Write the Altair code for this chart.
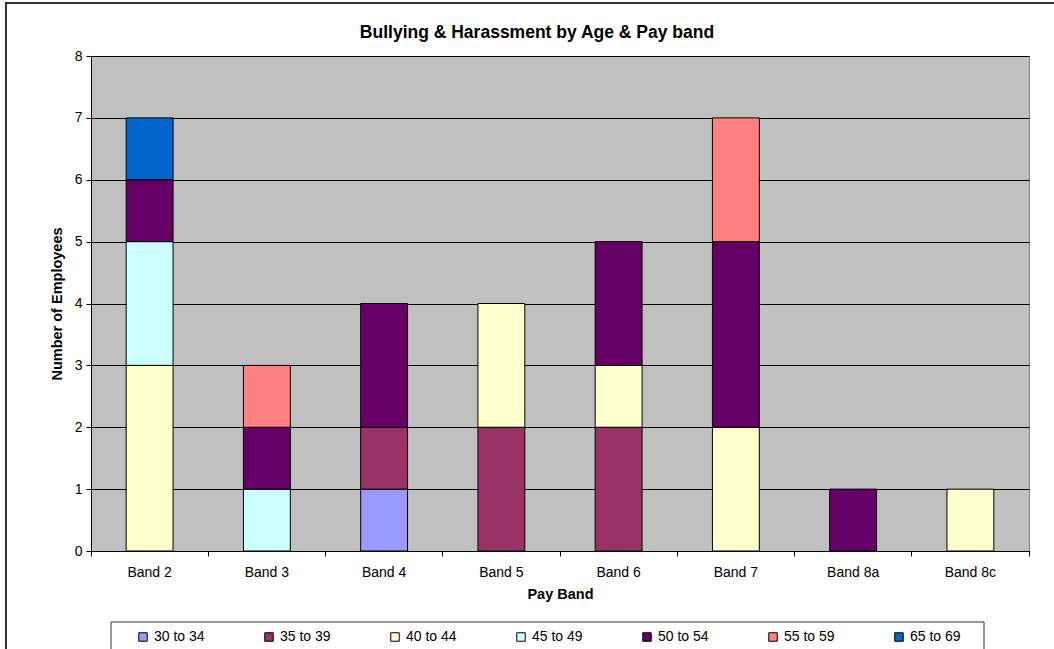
import altair as alt
import pandas as pd

# Pay bands along the x axis
bands = ["Band 2", "Band 3", "Band 4", "Band 5", "Band 6", "Band 7", "Band 8a", "Band 8c"]

# Age groups (stacked bottom to top) and their fill colours
ages = ["30 to 34", "35 to 39", "40 to 44", "45 to 49", "50 to 54", "55 to 59", "65 to 69"]
age_colors = ["#9999FF", "#993366", "#FFFFCC", "#CCFFFF", "#660066", "#FF8080", "#0066CC"]

# Employees per pay band, one list per age group
age_30_34 = [0, 0, 1, 0, 0, 0, 0, 0]
age_35_39 = [0, 0, 1, 2, 2, 0, 0, 0]
age_40_44 = [3, 0, 0, 2, 1, 2, 0, 1]
age_45_49 = [2, 1, 0, 0, 0, 0, 0, 0]
age_50_54 = [1, 1, 2, 0, 2, 3, 1, 0]
age_55_59 = [0, 1, 0, 0, 0, 2, 0, 0]
age_65_69 = [1, 0, 0, 0, 0, 0, 0, 0]

series = [age_30_34, age_35_39, age_40_44, age_45_49, age_50_54, age_55_59, age_65_69]

rows = []
for i, (age, values) in enumerate(zip(ages, series)):
    for band, v in zip(bands, values):
        if v > 0:
            rows.append({"band": band, "age": age, "count": v, "order": i})
df = pd.DataFrame(rows)

FONT = "Liberation Sans"

bars = alt.Chart(df).mark_bar(
    stroke="black", strokeWidth=1, width=alt.RelativeBandSize(0.4)
).encode(
    x=alt.X(
        "band:N",
        sort=bands,
        scale=alt.Scale(paddingInner=0, paddingOuter=0),
        axis=alt.Axis(
            title="Pay Band",
            labelAngle=0,
            bandPosition=1,
            tickExtra=True,
            tickSize=5,
            tickColor="black",
            domainColor="black",
            labelPadding=9,
            labelFontSize=14,
            labelColor="black",
            titleFontSize=14.5,
            titleFontWeight="bold",
            titleColor="black",
            titlePadding=8,
            grid=False,
        ),
    ),
    y=alt.Y(
        "count:Q",
        stack="zero",
        scale=alt.Scale(domain=[0, 8], nice=False),
        axis=alt.Axis(
            title="Number of Employees",
            values=list(range(9)),
            grid=True,
            gridColor="black",
            gridWidth=1,
            tickSize=5,
            tickColor="black",
            domainColor="black",
            labelPadding=4,
            labelFontSize=14,
            labelColor="black",
            titleFontSize=14.5,
            titleFontWeight="bold",
            titleColor="black",
            titlePadding=10,
        ),
    ),
    color=alt.Color(
        "age:N",
        scale=alt.Scale(domain=ages, range=age_colors),
        legend=alt.Legend(
            title=None,
            orient="none",
            legendX=45,
            legendY=574,
            direction="horizontal",
            columns=7,
            gridAlign="all",
            columnPadding=57,
            padding=0,
            symbolType="square",
            symbolSize=72,
            symbolStrokeColor="black",
            symbolStrokeWidth=1,
            symbolOpacity=1,
            labelFontSize=14,
            labelOffset=4,
            labelColor="black",
        ),
    ),
    order=alt.Order("order:Q", sort="ascending"),
)

one = pd.DataFrame({"k": [0]})

# Frame around the legend
legend_box = alt.Chart(one).mark_rect(
    fillOpacity=0, stroke="#333333", strokeWidth=1
).encode(
    x=alt.value(20), x2=alt.value(893), y=alt.value(566), y2=alt.value(700)
)

# Outer chart frame
outer_box = alt.Chart(one).mark_rect(
    fillOpacity=0, stroke="#333333", strokeWidth=2
).encode(
    x=alt.value(-85), x2=alt.value(1100), y=alt.value(-53), y2=alt.value(700)
)

chart = alt.layer(outer_box, bars, legend_box).properties(
    width=938,
    height=495,
    autosize=alt.AutoSizeParams(type="none"),
    padding={"left": 91, "top": 56, "right": 25, "bottom": 98},
    title=alt.TitleParams(
        "Bullying & Harassment by Age & Pay band",
        fontSize=17.5,
        fontWeight="bold",
        font=FONT,
        color="black",
        anchor="middle",
        frame="group",
        offset=18,
        dx=-23,
        dy=57,
    ),
).configure(
    font=FONT,
    background="white",
).configure_view(
    fill="#C0C0C0",
    stroke="#808080",
    strokeWidth=1,
)

chart.save("out.html", embed_options={"renderer": "svg", "actions": False})
